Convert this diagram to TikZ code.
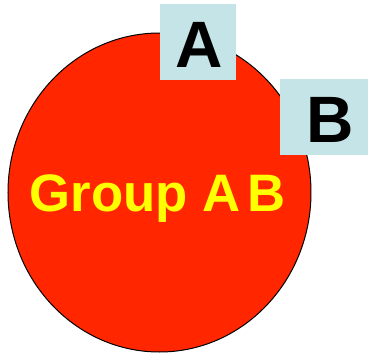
\documentclass[tikz,border=0pt]{standalone}
\usepackage{fontspec}
\setmainfont{Liberation Sans}
\definecolor{grpred}{HTML}{FF2600}
\definecolor{boxblue}{HTML}{C5E4E8}
\definecolor{grpyellow}{HTML}{FFFF00}
\begin{document}
\begin{tikzpicture}[x=1pt,y=-1pt,
  lbox/.style={fill=boxblue,draw=none},
  bigletter/.style={inner sep=0pt,anchor=base,font=\fontsize{65.6}{66}\selectfont\bfseries,text=black}]
\useasboundingbox (0,0) rectangle (368,354);
\draw[fill=grpred,draw=black,line width=1pt] (159.5,192.5) ellipse [x radius=151.5, y radius=159.5];
\node[inner sep=0pt,anchor=base,font=\fontsize{52.7}{53}\selectfont\bfseries,text=grpyellow] (grp) at (157.5,211) {Group A\kern7pt B};
\fill[lbox] (160,4) rectangle (236,80);
\fill[lbox] (280,79) rectangle (368,155);
\node[bigletter] (a) at (199,67) {A};
\node[bigletter] (b) at (330,142) {B};
\end{tikzpicture}
\end{document}
